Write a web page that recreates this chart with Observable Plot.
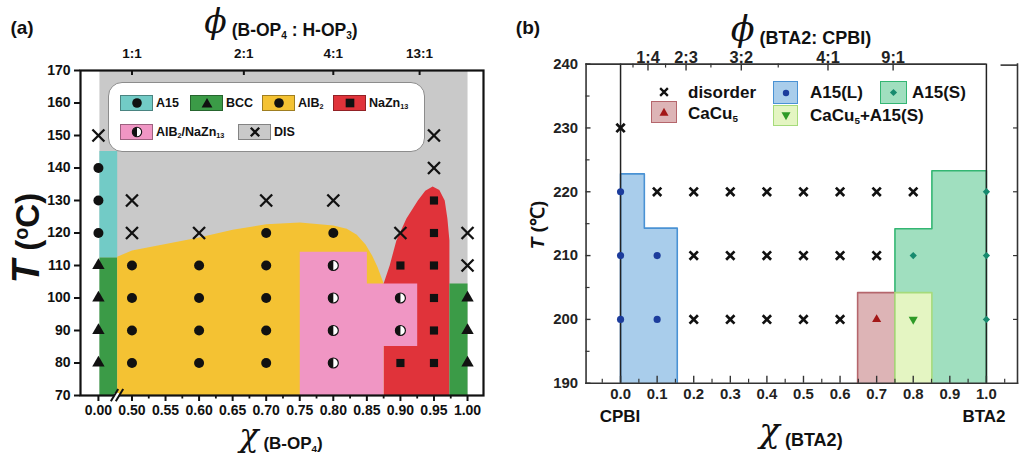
<!DOCTYPE html>
<html><head><meta charset="utf-8">
<script src="https://cdn.jsdelivr.net/npm/d3@7"></script>
<script src="https://cdn.jsdelivr.net/npm/@observablehq/plot@0.6"></script>
<style>
body{margin:0;background:#fff;}
#wrap{position:relative;width:1019px;height:457px;overflow:hidden;font-family:'Liberation Sans',Arial,sans-serif;font-weight:bold;color:#111;}
#pa,#pb{position:absolute;top:0;}
#pa{left:0;} #pb{left:510px;}
.lab{position:absolute;white-space:nowrap;line-height:1;}
.lab sub{font-size:58%;vertical-align:baseline;position:relative;top:0.32em;}
.lab sup{font-size:60%;vertical-align:baseline;position:relative;top:-0.55em;}
.g{font-family:'DejaVu Serif','Liberation Serif',serif;font-style:italic;font-weight:normal;display:inline-block;line-height:0.6;}
.sw{position:absolute;box-sizing:border-box;display:flex;align-items:center;justify-content:center;}
</style></head>
<body>
<div id="wrap"><div id="pa"></div><div id="pb"></div></div>
<script>
// ================= Panel (a) data =================
const aXTicks  = [0.45,0.50,0.55,0.60,0.65,0.70,0.75,0.80,0.85,0.90,0.95,1.00];
const aXLabels = ["0.00","0.50","0.55","0.60","0.65","0.70","0.75","0.80","0.85","0.90","0.95","1.00"];
const aXMinor  = [0.525,0.575,0.625,0.675,0.725,0.775,0.825,0.875,0.925,0.975];
const aYTicks  = [70,80,90,100,110,120,130,140,150,160,170];
const aTopTicks  = [0.5,0.6667,0.8,0.9286];
const aTopLabels = ["1:1","2:1","4:1","13:1"];
const aBreakX = [0.474,0.4814];

// phase points [chi, T]
const aDIS   = [[0.45,150],[0.5,130],[0.5,120],[0.6,120],[0.7,130],[0.8,130],[0.9,120],[0.95,150],[0.95,140],[1.0,120],[1.0,110]];
const aA15   = [[0.45,140],[0.45,130],[0.45,120]];
const aBCC   = [[0.45,110],[0.45,100],[0.45,90],[0.45,80],[1.0,100],[1.0,90],[1.0,80]];
const aAlB2  = [[0.5,110],[0.5,100],[0.5,90],[0.5,80],[0.6,110],[0.6,100],[0.6,90],[0.6,80],[0.7,120],[0.7,110],[0.7,100],[0.7,90],[0.7,80],[0.8,120]];
const aMix   = [[0.8,110],[0.8,100],[0.8,90],[0.8,80],[0.9,100],[0.9,90]];
const aNaZn  = [[0.9,110],[0.9,80],[0.95,130],[0.95,120],[0.95,110],[0.95,100],[0.95,90],[0.95,80]];

// phase regions (polygons) [chi, T]
const aRegGray   = [[0.4515,70],[0.4515,170],[1.0,170],[1.0,70]];
const aRegA15    = [[0.4515,112.5],[0.4515,145.2],[0.478,145.2],[0.478,112.5]];
const aRegBCC1   = [[0.4515,70],[0.4515,112.5],[0.478,112.5],[0.478,70]];
const aRegBCC2   = [[0.973,70],[0.973,104.5],[1.0,104.5],[1.0,70]];
const aRegAlB2   = [[0.478,70],[0.478,112.7],[0.5,114.6],[0.55,116.6],[0.6,118.6],[0.65,121],[0.7,122.7],[0.75,123.2],[0.8,122.3],[0.82,121.3],[0.835,119.5],[0.848,116.5],[0.858,113],[0.866,109.5],[0.875,104.5],[0.875,70]];
const aRegNaZn   = [[0.875,70],[0.875,104.5],[0.884,110],[0.894,117.7],[0.909,124.5],[0.926,130],[0.937,133],[0.948,134.3],[0.958,133.2],[0.966,130],[0.970,124.5],[0.973,117.7],[0.973,70]];
const aRegMix    = [[0.75,70],[0.75,114.2],[0.85,114.2],[0.85,104.5],[0.925,104.5],[0.925,85.2],[0.875,85.2],[0.875,70]];

const aColors = {gray:"#c9c9c9", A15:"#72cbc6", BCC:"#3b9b47", AlB2:"#f4c233", NaZn:"#e0333a", Mix:"#f096c4"};

// ================= Panel (b) data =================
const bXTicks  = [0,0.1,0.2,0.3,0.4,0.5,0.6,0.7,0.8,0.9,1.0];
const bXLabels = ["0.0","0.1","0.2","0.3","0.4","0.5","0.6","0.7","0.8","0.9","1.0"];
const bXMinor  = [-0.05,0.05,0.15,0.25,0.35,0.45,0.55,0.65,0.75,0.85,0.95,1.05];
const bYTicks  = [190,200,210,220,230,240];
const bYMinor  = [195,205,215,225,235];
const bYRight  = [200,210,220,230];
const bTopTicks  = [0.075,0.179,0.330,0.567,0.745];
const bTopLabels = ["1:4","2:3","3:2","4:1","9:1"];
const bTopMinor  = [0.034,0.123,0.247,0.431];
const bLines = [0,1];

const bDisorder = [[0,230],[0.1,220],[0.2,220],[0.2,210],[0.2,200],[0.3,220],[0.3,210],[0.3,200],[0.4,220],[0.4,210],[0.4,200],[0.5,220],[0.5,210],[0.5,200],[0.6,220],[0.6,210],[0.6,200],[0.7,220],[0.7,210],[0.8,220]];
const bA15L  = [[0,220],[0,210],[0,200],[0.1,210],[0.1,200]];
const bA15S  = [[0.8,210],[1,220],[1,210],[1,200]];
const bCaCu5 = [[0.7,200]];
const bMix   = [[0.8,200]];

const bRegA15L  = [[0,190],[0,222.8],[0.065,222.8],[0.065,214.3],[0.155,214.3],[0.155,190]];
const bRegA15S  = [[0.75,190],[0.75,214.2],[0.851,214.2],[0.851,223.3],[1,223.3],[1,190]];
const bRegCaCu5 = [[0.648,190],[0.648,204.2],[0.75,204.2],[0.75,190]];
const bRegMix   = [[0.75,190],[0.75,204.2],[0.851,204.2],[0.851,190]];

const bColors = {
  A15L:{fill:"#a9cdeb",stroke:"#4a92d4",dot:"#1c3c9c"},
  A15S:{fill:"#a0dfbf",stroke:"#34b673",dot:"#178a6e"},
  CaCu5:{fill:"#ddb4b6",stroke:"#b5666c",dot:"#a31717"},
  Mix:{fill:"#e4f5c2",stroke:"#a6db7b",dot:"#2e9a27"}
};

// ================= helpers =================
const FONT = "'Liberation Sans', Arial, sans-serif";
const px = d => d[0], py = d => d[1];
const poly = (data, fill, stroke, sw) => Plot.line(data, {x: px, y: py, fill, stroke: stroke || "none", strokeWidth: sw || 0});
const halfLeft = {draw(ctx, size){ const r = Math.sqrt(size / Math.PI); ctx.moveTo(0, -r); ctx.arc(0, 0, r, -Math.PI/2, Math.PI/2, true); ctx.closePath(); }};

// ================= Panel (a) =================
const A = {w:510, h:457, l:80, r:27, t:70, b:62};
const aFH = A.h - A.t - A.b, aFW = A.w - A.l - A.r;
const plotA = Plot.plot({
  width: A.w, height: A.h, marginLeft: A.l, marginRight: A.r, marginTop: A.t, marginBottom: A.b,
  x: {domain: [0.4233, 1.0238], axis: null},
  y: {domain: [70, 170], axis: null},
  style: {fontFamily: FONT, fontWeight: "bold", background: "transparent", overflow: "visible", color: "#111"},
  marks: [
    poly(aRegGray, aColors.gray),
    poly(aRegA15, aColors.A15),
    poly(aRegBCC1, aColors.BCC),
    poly(aRegAlB2, aColors.AlB2),
    poly(aRegNaZn, aColors.NaZn),
    poly(aRegMix, aColors.Mix),
    poly(aRegBCC2, aColors.BCC),
    Plot.frame({stroke: "#111", strokeWidth: 2.2}),
    // axis break
    Plot.rect([aBreakX], {x1: d => d[0], x2: d => d[1], y1: 69.4, y2: 70.6, fill: "white"}),
    Plot.link(aBreakX, {x1: d => d - 0.0055, x2: d => d + 0.0055, y1: 68.2, y2: 72, stroke: "#111", strokeWidth: 2}),
    // ticks
    Plot.axisY({ticks: aYTicks, tickSize: 6, tickPadding: 4, fontSize: 14, strokeWidth: 2}),
    Plot.axisX({ticks: aXTicks, tickFormat: d => aXLabels[aXTicks.indexOf(d)], tickSize: 6, tickPadding: 4, fontSize: 14, strokeWidth: 2}),
    Plot.ruleX(aXMinor, {insetTop: aFH, insetBottom: -3.5, stroke: "#111", strokeWidth: 1.8}),
    Plot.ruleX(aTopTicks, {insetBottom: aFH - 5, stroke: "#111", strokeWidth: 2}),
    Plot.axisX({anchor: "top", ticks: aTopTicks, tickFormat: d => aTopLabels[aTopTicks.indexOf(d)], tickSize: 0, tickPadding: 13, fontSize: 13.5}),
    // points
    Plot.dot(aDIS, {x: px, y: py, symbol: "times", r: 5.5, stroke: "#111", strokeWidth: 2.3}),
    Plot.dot(aA15, {x: px, y: py, r: 5, fill: "#111"}),
    Plot.dot(aAlB2, {x: px, y: py, r: 5, fill: "#111"}),
    Plot.dot(aBCC, {x: px, y: py, symbol: "triangle", r: 4.6, fill: "#111"}),
    Plot.dot(aNaZn, {x: px, y: py, symbol: "square", r: 4.6, fill: "#111"}),
    Plot.dot(aMix, {x: px, y: py, r: 5, fill: "white", stroke: "#111", strokeWidth: 1.2}),
    Plot.dot(aMix, {x: px, y: py, r: 5, symbol: halfLeft, fill: "#111"})
  ]
});
document.getElementById("pa").appendChild(plotA);

// ================= Panel (b) =================
const B = {w:512, h:457, l:76, r:2, t:64, b:72};
const bFH = B.h - B.t - B.b, bFW = B.w - B.l - B.r;
const plotB = Plot.plot({
  width: B.w, height: B.h, marginLeft: B.l, marginRight: B.r, marginTop: B.t, marginBottom: B.b,
  x: {domain: [-0.0943, 1.085], axis: null},
  y: {domain: [190, 240], axis: null},
  style: {fontFamily: FONT, fontWeight: "bold", background: "transparent", overflow: "visible", color: "#222"},
  marks: [
    poly(bRegA15L, bColors.A15L.fill, bColors.A15L.stroke, 1.6),
    poly(bRegA15S, bColors.A15S.fill, bColors.A15S.stroke, 1.6),
    poly(bRegCaCu5, bColors.CaCu5.fill, bColors.CaCu5.stroke, 1.6),
    poly(bRegMix, bColors.Mix.fill, bColors.Mix.stroke, 1.6),
    Plot.ruleX(bLines, {stroke: "#222", strokeWidth: 1.5}),
    Plot.frame({anchor: "left", stroke: "#333", strokeWidth: 1.6}),
    Plot.frame({anchor: "bottom", stroke: "#333", strokeWidth: 1.6}),
    Plot.frame({anchor: "right", stroke: "#333", strokeWidth: 1.6}),
    Plot.ruleY([240], {x1: -0.0943, x2: 1.0, stroke: "#333", strokeWidth: 1.6}),
    Plot.ruleY([240], {x1: 1.04, x2: 1.085, stroke: "#333", strokeWidth: 1.6, dy: 1}),
    // inward ticks
    Plot.ruleY(bYTicks, {insetRight: bFW - 5, stroke: "#333", strokeWidth: 1.4}),
    Plot.ruleY(bYMinor, {insetRight: bFW - 4, stroke: "#333", strokeWidth: 1.2}),
    Plot.ruleY(bYRight, {insetLeft: bFW - 4, stroke: "#333", strokeWidth: 1.2}),
    Plot.ruleX(bXTicks, {insetTop: bFH - 7, stroke: "#333", strokeWidth: 1.4}),
    Plot.ruleX(bXMinor, {insetTop: bFH - 4, stroke: "#333", strokeWidth: 1.2}),
    Plot.ruleX(bTopTicks, {insetBottom: bFH - 7, stroke: "#333", strokeWidth: 1.4}),
    Plot.ruleX(bTopMinor, {insetBottom: bFH - 4, stroke: "#333", strokeWidth: 1.2}),
    Plot.axisY({ticks: bYTicks, tickSize: 0, tickPadding: 8, fontSize: 15}),
    Plot.axisX({ticks: bXTicks, tickFormat: d => bXLabels[bXTicks.indexOf(d)], tickSize: 0, tickPadding: 5, fontSize: 15}),
    Plot.axisX({anchor: "top", ticks: bTopTicks, tickFormat: d => bTopLabels[bTopTicks.indexOf(d)], tickSize: 0, tickPadding: 1, fontSize: 16.5}),
    // points
    Plot.dot(bDisorder, {x: px, y: py, symbol: "times", r: 3.9, stroke: "#111", strokeWidth: 2.7}),
    Plot.dot(bA15L, {x: px, y: py, r: 3.6, fill: bColors.A15L.dot}),
    Plot.dot(bA15S, {x: px, y: py, symbol: "diamond2", r: 3.3, fill: bColors.A15S.dot}),
    Plot.dot(bCaCu5, {x: px, y: py, symbol: "triangle", r: 3.4, fill: bColors.CaCu5.dot}),
    Plot.dot(bMix, {x: px, y: py, symbol: "triangle", rotate: 180, r: 3.4, fill: bColors.Mix.dot})
  ]
});
document.getElementById("pb").appendChild(plotB);

// ================= HTML text & legends =================
const wrap = document.getElementById("wrap");
function label(x, y, html, size, extra) {
  const d = document.createElement("div");
  d.className = "lab";
  d.innerHTML = html;
  d.style.left = x + "px"; d.style.top = y + "px"; d.style.fontSize = size + "px";
  d.style.transform = "translate(-50%,-50%)" + (extra && extra.rot ? ` rotate(${extra.rot}deg)` : "");
  if (extra && extra.left) d.style.transform = "translate(0,-50%)";
  wrap.appendChild(d);
  return d;
}
const symSvg = (shape, color, s) => {
  s = s || 12; const h = s / 2;
  let p = "";
  if (shape === "circle") p = `<circle cx="${h}" cy="${h}" r="${h*0.8}" fill="${color}"/>`;
  if (shape === "tri") p = `<path d="M${h},${s*0.08}L${s*0.95},${s*0.88}L${s*0.05},${s*0.88}Z" fill="${color}"/>`;
  if (shape === "tridown") p = `<path d="M${h},${s*0.92}L${s*0.95},${s*0.12}L${s*0.05},${s*0.12}Z" fill="${color}"/>`;
  if (shape === "square") p = `<rect x="${s*0.14}" y="${s*0.14}" width="${s*0.72}" height="${s*0.72}" fill="${color}"/>`;
  if (shape === "diamond") p = `<path d="M${h},${s*0.1}L${s*0.9},${h}L${h},${s*0.9}L${s*0.1},${h}Z" fill="${color}"/>`;
  if (shape === "half") p = `<circle cx="${h}" cy="${h}" r="${h*0.78}" fill="white" stroke="${color}" stroke-width="1.1"/><path d="M${h},${h-h*0.78}A${h*0.78},${h*0.78} 0 0 0 ${h},${h+h*0.78}Z" fill="${color}"/>`;
  if (shape === "times") p = `<path d="M${s*0.15},${s*0.15}L${s*0.85},${s*0.85}M${s*0.85},${s*0.15}L${s*0.15},${s*0.85}" stroke="${color}" stroke-width="2.3"/>`;
  return `<svg width="${s}" height="${s}" style="display:block">${p}</svg>`;
};
function swatch(x, y, w, h, fill, border, sym) {
  const d = document.createElement("div");
  d.className = "sw";
  Object.assign(d.style, {left: x + "px", top: y + "px", width: w + "px", height: h + "px", background: fill, border: "1.2px solid " + border});
  d.innerHTML = sym;
  wrap.appendChild(d);
}

// Panel (a) titles
label(22, 27, "(a)", 19);
label(281, 27, '<span class="g" style="font-size:33px;position:relative;top:-3px">ϕ</span> (B-OP<sub>4</sub> : H-OP<sub>3</sub>)', 17.5);
label(281, 440, '<span class="g" style="font-size:32px;position:relative;top:-3px">χ</span> (B-OP<sub>4</sub>)', 17);
label(26, 238, '<i style="font-size:38px">T</i> (<sup>o</sup>C)', 33, {rot: -90});

// Panel (a) legend
const aLegend = [
  {name: "A15", color: aColors.A15, sym: "circle", x: 120, y: 95},
  {name: "BCC", color: aColors.BCC, sym: "tri", x: 190, y: 95},
  {name: "AlB<sub>2</sub>", color: aColors.AlB2, sym: "circle", x: 262, y: 95},
  {name: "NaZn<sub>13</sub>", color: aColors.NaZn, sym: "square", x: 333, y: 95},
  {name: "AlB<sub>2</sub>/NaZn<sub>13</sub>", color: aColors.Mix, sym: "half", x: 120, y: 124},
  {name: "DIS", color: aColors.gray, sym: "times", x: 238, y: 124}
];
const box = document.createElement("div");
Object.assign(box.style, {position: "absolute", left: "108px", top: "82px", width: "317px", height: "70px", boxSizing: "border-box", border: "1.5px solid #8c8c8c", borderRadius: "14px", background: "#fff"});
wrap.appendChild(box);
aLegend.forEach(e => {
  swatch(e.x, e.y, 33, 16, e.color, "rgba(0,0,0,0.35)", symSvg(e.sym, "#111", 12));
  label(e.x + 36, e.y + 8, e.name, 12.5, {left: true});
});

// Panel (b) titles
label(528, 27, "(b)", 19);
label(801, 34, '<span class="g" style="font-size:35px;position:relative;top:-3px">ϕ</span> (BTA2: CPBI)', 18);
label(801, 436, '<span class="g" style="font-size:34px;position:relative;top:-4px">χ</span> (BTA2)', 18);
label(537, 225, '<i>T</i> (℃)', 19, {rot: -90});
label(620, 416, "CPBI", 17);
label(984, 416, "BTA2", 17);

// Panel (b) legend
label(664, 92, symSvg("times", "#111", 11), 10);
label(688, 92, "disorder", 17, {left: true});
swatch(651, 101, 26, 22, bColors.CaCu5.fill, bColors.CaCu5.stroke, symSvg("tri", bColors.CaCu5.dot, 10));
label(688, 113, "CaCu<sub>5</sub>", 17, {left: true});
swatch(773, 81, 25, 23, bColors.A15L.fill, bColors.A15L.stroke, symSvg("circle", bColors.A15L.dot, 8));
label(810, 92, "A15(L)", 17, {left: true});
swatch(880, 81, 27, 23, bColors.A15S.fill, bColors.A15S.stroke, symSvg("diamond", bColors.A15S.dot, 9));
label(912, 92, "A15(S)", 17, {left: true});
swatch(773, 105, 25, 21, bColors.Mix.fill, bColors.Mix.stroke, symSvg("tridown", bColors.Mix.dot, 10));
label(810, 115, "CaCu<sub>5</sub>+A15(S)", 17, {left: true});
</script>
</body></html>
